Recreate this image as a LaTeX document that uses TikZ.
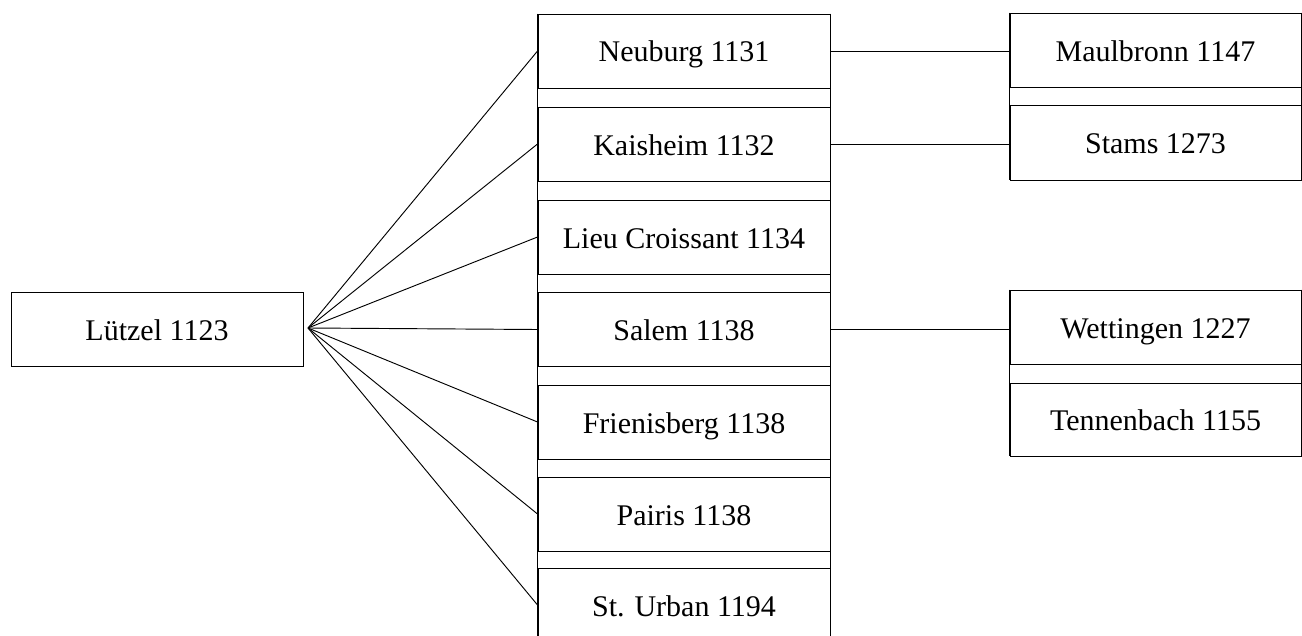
\documentclass[tikz,border=0pt]{standalone}
\usepackage{fontspec}
\setmainfont{Liberation Serif}

\begin{document}
\begin{tikzpicture}[x=0.75pt,y=0.75pt,yscale=-1,xscale=1,
    abbey/.style={draw,line width=0.7pt,minimum width=219pt,minimum height=55.5pt,inner sep=0pt,
      text height=16.5pt,text depth=0pt,font=\fontsize{22.5}{27}\selectfont},
    tie/.style={line width=0.7pt}]
\useasboundingbox (0,0) rectangle (1302,635);
\clip (0,0) rectangle (1302,635);
% mother house
\node [abbey] (luetzel) at (157,329) {Lützel 1123};
\coordinate (fan) at (308,328);
% daughter houses
\node [abbey] (neuburg) at (684,51) {Neuburg 1131};
\node [abbey] (kaisheim) at (684,144) {Kaisheim 1132};
\node [abbey] (lieu) at (684,237) {Lieu Croissant 1134};
\node [abbey] (salem) at (684,329.5) {Salem 1138};
\node [abbey] (frienisberg) at (684,422) {Frienisberg 1138};
\node [abbey] (pairis) at (684,514) {Pairis 1138};
\node [abbey] (urban) at (684,605) {St. Urban 1194};
\draw [tie] (neuburg.north west) -- (urban.south west);
\draw [tie] (neuburg.north east) -- (urban.south east);
% granddaughter houses
\node [abbey,minimum width=218.25pt] (maulbronn) at (1155.5,50) {Maulbronn 1147};
\node [abbey,minimum width=218.25pt,minimum height=56.25pt] (stams) at (1155.5,142.5) {Stams 1273};
\draw [tie] (maulbronn.north west) -- (stams.south west);
\draw [tie] (maulbronn.north east) -- (stams.south east);
\node [abbey,minimum width=218.25pt] (wettingen) at (1155.5,327) {Wettingen 1227};
\node [abbey,minimum width=218.25pt,minimum height=54.75pt] (tennenbach) at (1155.5,419.5) {Tennenbach 1155};
\draw [tie] (wettingen.north west) -- (tennenbach.south west);
\draw [tie] (wettingen.north east) -- (tennenbach.south east);
% filiation lines
\foreach \d in {neuburg,kaisheim,lieu,salem,frienisberg,pairis,urban}
  \draw [tie] (fan) -- (\d.west);
\draw [tie] (neuburg.east) -- (neuburg.east -| maulbronn.west);
\draw [tie] (kaisheim.east) -- (kaisheim.east -| stams.west);
\draw [tie] (salem.east) -- (salem.east -| wettingen.west);
\end{tikzpicture}
\end{document}
